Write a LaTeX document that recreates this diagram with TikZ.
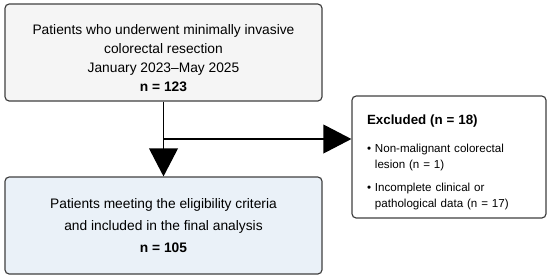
\documentclass[tikz,border=0pt]{standalone}
\usepackage{fontspec}
\setmainfont{Liberation Sans}
\usetikzlibrary{arrows.meta, positioning, calc}

\newcommand{\exitem}[1]{\textbullet\ \parbox[t]{3.8cm}{\raggedright #1}}

\begin{document}
\begin{tikzpicture}[
    every node/.style={font=\fontsize{9.8}{13.5}\selectfont},
    stage/.style={
        rectangle, rounded corners=3pt,
        draw={rgb,255:red,64;green,64;blue,64},
        line width=0.85pt,
        minimum width=7.925cm, minimum height=2.425cm,
        align=center, inner sep=0pt
    },
    excl/.style={
        rectangle, rounded corners=3pt, fill=white,
        draw={rgb,255:red,64;green,64;blue,64},
        line width=0.85pt,
        minimum width=4.85cm, minimum height=3.05cm,
        text width=4.1cm, align=left,
        font=\fontsize{8.25}{11.6}\selectfont
    },
    flow/.style={
        -{Triangle[length=0.7cm,width=0.72cm]},
        line width=0.85pt, black
    }
]
\useasboundingbox (0,0) rectangle (13.75,-6.975);

%% ── Cohort boxes ────────────────────────────────────────────────────
\node[stage, fill={rgb,255:red,245;green,245;blue,245}] (cohort) at (4.0875,-1.3125)
    {\rule{0pt}{14.5pt}Patients who underwent minimally invasive\\colorectal resection\\January 2023--May 2025\\\textbf{n = 123}};
\node[stage, fill={rgb,255:red,234;green,241;blue,248}] (final) at (4.0875,-5.6375)
    {Patients meeting the eligibility criteria\\[2pt]and included in the final analysis\\[2pt]\textbf{n = 105}};

%% ── Exclusions ──────────────────────────────────────────────────────
\node[excl] (excluded) at (11.225,-3.925)
    {\rule{0pt}{14.5pt}{\fontsize{9.5}{11.6}\selectfont\bfseries Excluded (n = 18)}\\[8.5pt]
     \exitem{Non-malignant colorectal\\lesion (n = 1)}\\[7.5pt]
     \exitem{Incomplete clinical or\\pathological data (n = 17)}};

%% ── Flow ────────────────────────────────────────────────────────────
\coordinate (split) at ($(cohort.south)!0.5!(final.north)$);
\draw[flow] (cohort.south) -- (final.north);
\draw[flow] (split) -- (split -| excluded.west);

\end{tikzpicture}
\end{document}
